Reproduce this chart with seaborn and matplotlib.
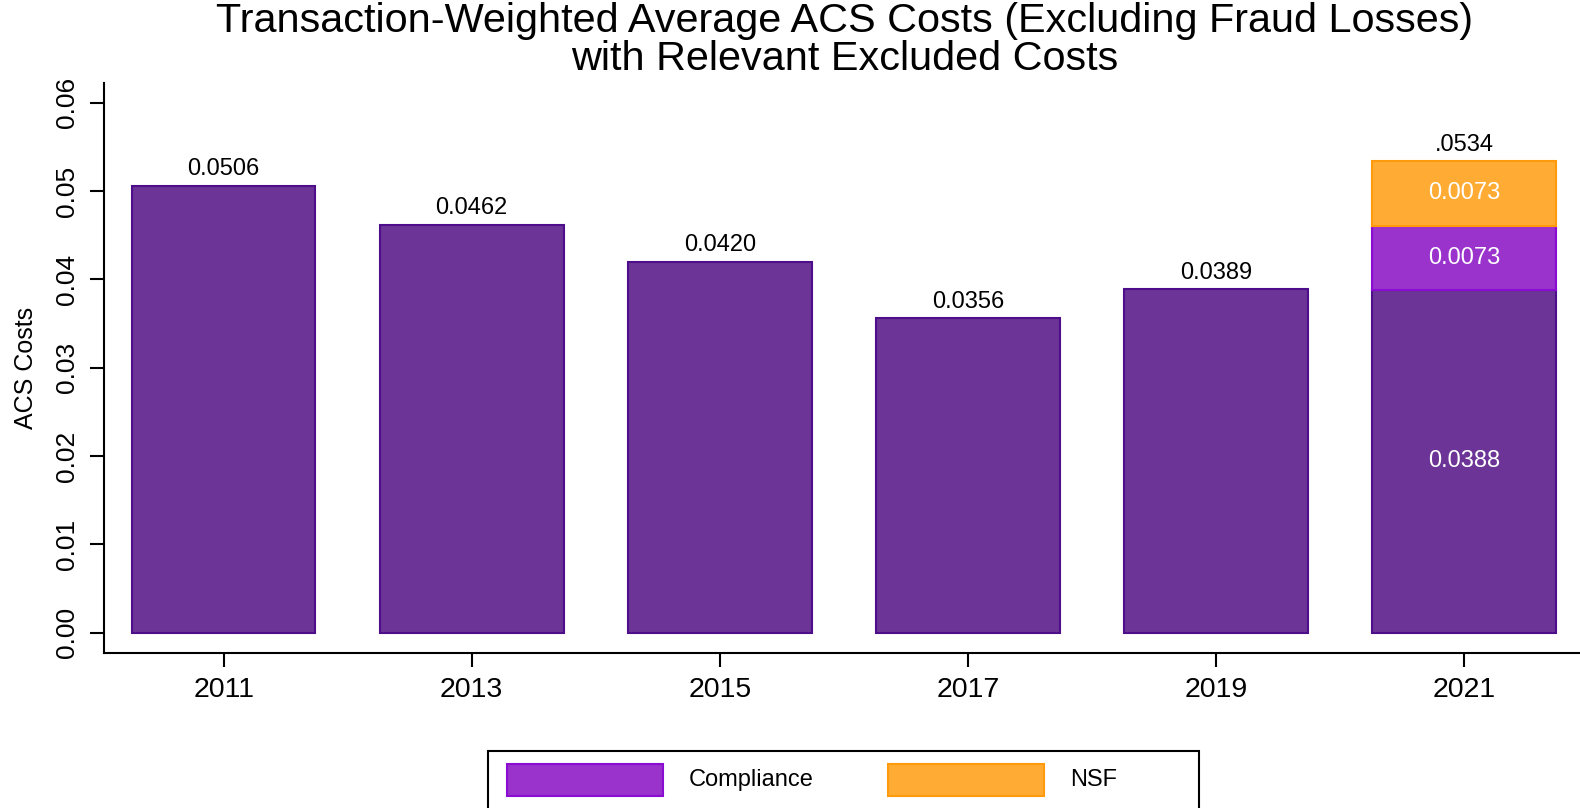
import matplotlib
matplotlib.use("Agg")
import matplotlib.pyplot as plt
from matplotlib.patches import Rectangle
import seaborn as sns
import pandas as pd

# Data
years = ["2011", "2013", "2015", "2017", "2019", "2021"]
acs_costs = [0.0506, 0.0462, 0.0420, 0.0356, 0.0389, 0.0388]
compliance_2021 = 0.0073
nsf_2021 = 0.0073
y_ticks = [0.00, 0.01, 0.02, 0.03, 0.04, 0.05, 0.06]
y_tick_labels = ["0.00", "0.01", "0.02", "0.03", "0.04", "0.05", "0.06"]

# Colours
base_fill, base_edge = "#6B3496", "#4E0E8C"
comp_fill, comp_edge = "#9933CC", "#8A0CD2"
nsf_fill, nsf_edge = "#FFAB34", "#FF9A0A"

sns.set_style("white")
plt.rcParams["font.family"] = ["Liberation Sans", "DejaVu Sans"]
plt.rcParams.update({"text.color": "black", "axes.labelcolor": "black",
                     "xtick.color": "black", "ytick.color": "black"})

W, H = 1580, 808
fig = plt.figure(figsize=(W / 100, H / 100), dpi=100)
left_px, right_px, top_px, bottom_px = 103.8, 1580, 82.6, 652.9
ax = fig.add_axes([left_px / W, 1 - bottom_px / H,
                   (right_px - left_px) / W, (bottom_px - top_px) / H])

df = pd.DataFrame({"year": years, "cost": acs_costs})
bar_w = 0.74
sns.barplot(data=df, x="year", y="cost", color=base_fill, edgecolor=base_edge,
            linewidth=1.5, width=bar_w, saturation=1, ax=ax, errorbar=None)

# 2021 stacked excluded costs
i21 = years.index("2021")
base21 = acs_costs[i21]
ax.bar(i21, compliance_2021, bottom=base21, width=bar_w, color=comp_fill,
       edgecolor=comp_edge, linewidth=1.5)
ax.bar(i21, nsf_2021, bottom=base21 + compliance_2021, width=bar_w,
       color=nsf_fill, edgecolor=nsf_edge, linewidth=1.5)
total21 = base21 + compliance_2021 + nsf_2021

# Value labels
lab_fs = 17
for i, v in enumerate(acs_costs):
    if i == i21:
        ax.text(i, v / 2, f"{v:.4f}", ha="center", va="center",
                fontsize=lab_fs, color="white")
    else:
        ax.annotate(f"{v:.4f}", (i, v), xytext=(0, 12), textcoords="offset points",
                    ha="center", va="center", fontsize=lab_fs, color="black")
ax.text(i21, base21 + compliance_2021 / 2, f"{compliance_2021:.4f}",
        ha="center", va="center", fontsize=lab_fs, color="white")
ax.text(i21, base21 + compliance_2021 + nsf_2021 / 2, f"{nsf_2021:.4f}",
        ha="center", va="center", fontsize=lab_fs, color="white")
ax.annotate(f"{total21:.4f}".lstrip("0"), (i21, total21), xytext=(0, 12),
            textcoords="offset points", ha="center", va="center", fontsize=lab_fs)

# Axes styling
ax.set_xlim(-0.483, 5.467)
ax.set_ylim(-0.00229, 0.0623)
ax.set_yticks(y_ticks, y_tick_labels, rotation=90, va="center")
ax.set_xlabel("")
ax.set_ylabel("ACS Costs", fontsize=18, labelpad=12)
for s in ["top", "right"]:
    ax.spines[s].set_visible(False)
for s in ["left", "bottom"]:
    ax.spines[s].set_color("black")
    ax.spines[s].set_linewidth(1.5)
ax.tick_params(axis="both", direction="out", length=10, width=1.5,
               color="black", bottom=True, left=True)
ax.tick_params(axis="x", labelsize=20.5, pad=7)
ax.tick_params(axis="y", labelsize=19, pad=8)

# Two-line title (anchored on the baseline of its last line)
fig.text(845 / W, 1 - 70 / H,
         "Transaction-Weighted Average ACS Costs (Excluding Fraud Losses)\n"
         "with Relevant Excluded Costs",
         ha="center", va="baseline", multialignment="center",
         fontsize=29.8, linespacing=1.0)

# Legend box along the bottom edge
def fx(px):
    return px / W

def fy(py):
    return 1 - py / H

fig.patches.append(Rectangle((fx(488), fy(830)), fx(1199) - fx(488), fy(751) - fy(830),
                             transform=fig.transFigure, fill=False,
                             edgecolor="black", linewidth=1.5))
for x0, fill, edge, label in [(507, comp_fill, comp_edge, "Compliance"),
                              (888, nsf_fill, nsf_edge, "NSF")]:
    fig.patches.append(Rectangle((fx(x0), fy(796)), fx(156), fy(764) - fy(796),
                                 transform=fig.transFigure, facecolor=fill,
                                 edgecolor=edge, linewidth=1.5))
    fig.text(fx(x0 + 182), fy(780), label, ha="left", va="center", fontsize=17)

fig.savefig("out.png", dpi=100)
